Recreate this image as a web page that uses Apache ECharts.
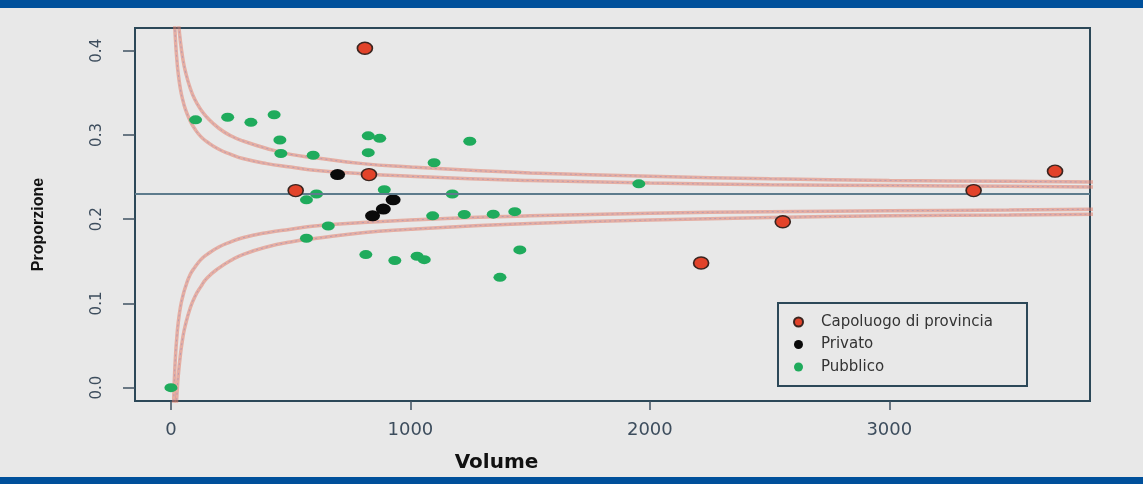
<!DOCTYPE html>
<html>
<head>
<meta charset="utf-8">
<title>Proporzione per volume</title>
<script src="https://cdn.jsdelivr.net/npm/echarts@6/dist/echarts.min.js"></script>
<style>
  html, body { margin: 0; padding: 0; background: #e8e8e8; }
  #chart { width: 1143px; height: 484px; }
</style>
</head>
<body>
<div id="chart"></div>
<script>
// Axis ticks
const volumeTicks = [0, 1000, 2000, 3000];
const proportionTicks = [0, 0.1, 0.2, 0.3, 0.4];

// Overall proportion (reference line)
const targetProportion = 0.225;

// Control limits of the funnel, tabulated by volume
const limitVolumes = [10, 12, 15, 20, 25, 30, 40, 50, 60, 80, 100, 125, 150, 200, 250, 300, 400, 500, 600, 800, 1000, 1250, 1500, 2000, 2500, 3000, 3500, 3900];
const upperInner = [0.484, 0.461, 0.436, 0.408, 0.389, 0.374, 0.354, 0.341, 0.331, 0.317, 0.307, 0.298, 0.292, 0.283, 0.277, 0.272, 0.266, 0.262, 0.258, 0.254, 0.251, 0.248, 0.246, 0.243, 0.241, 0.240, 0.239, 0.238];
const lowerInner = [-0.034, -0.011, 0.014, 0.042, 0.061, 0.076, 0.096, 0.109, 0.119, 0.134, 0.143, 0.152, 0.158, 0.167, 0.173, 0.178, 0.184, 0.188, 0.192, 0.196, 0.199, 0.202, 0.204, 0.207, 0.209, 0.210, 0.211, 0.212];
const upperOuter = [0.595, 0.563, 0.527, 0.486, 0.459, 0.439, 0.410, 0.390, 0.376, 0.356, 0.342, 0.330, 0.321, 0.308, 0.299, 0.293, 0.284, 0.277, 0.273, 0.266, 0.262, 0.258, 0.255, 0.251, 0.248, 0.246, 0.245, 0.244];
const lowerOuter = [-0.145, -0.113, -0.077, -0.036, -0.009, 0.012, 0.040, 0.060, 0.074, 0.094, 0.108, 0.120, 0.130, 0.142, 0.151, 0.158, 0.167, 0.173, 0.177, 0.184, 0.188, 0.192, 0.195, 0.199, 0.202, 0.204, 0.205, 0.206];

// Capoluogo di provincia
const capoluogoVolume = [521, 810, 827, 2214, 2555, 3352, 3692];
const capoluogoProp   = [0.234, 0.403, 0.253, 0.148, 0.197, 0.234, 0.257];

// Privato
const privatoVolume = [696, 842, 887, 928];
const privatoProp   = [0.253, 0.204, 0.212, 0.223];

// Pubblico
const pubblicoVolume = [0, 103, 237, 334, 431, 455, 459, 594, 824, 872, 824, 1248, 1099, 608, 566, 891, 1175, 1093, 1225, 1346, 1436, 657, 566, 814, 935, 1028, 1058, 1457, 1374, 1954];
const pubblicoProp   = [0.0, 0.318, 0.321, 0.315, 0.324, 0.294, 0.278, 0.276, 0.299, 0.296, 0.279, 0.2925, 0.267, 0.230, 0.223, 0.235, 0.230, 0.204, 0.2056, 0.206, 0.209, 0.192, 0.1774, 0.158, 0.151, 0.156, 0.152, 0.1636, 0.131, 0.242];

const pairs = (xs, ys) => xs.map((x, i) => [x, ys[i]]);

const frameColor = '#2c4858';
const tickColor = '#3f5262';

function limitSeries(values) {
  return [
    {
      type: 'line', silent: true, smooth: true, symbol: 'none', z: 1,
      data: pairs(limitVolumes, values),
      lineStyle: { color: 'rgba(226,125,105,0.55)', width: 3.5 }
    },
    {
      type: 'line', silent: true, smooth: true, symbol: 'none', z: 2,
      data: pairs(limitVolumes, values),
      lineStyle: { color: 'rgba(110,120,200,0.35)', width: 1, type: [2, 3] }
    }
  ];
}

const chart = echarts.init(document.getElementById('chart'));

chart.setOption({
  backgroundColor: '#e8e8e8',
  animation: false,
  grid: {
    left: 135, right: 53, top: 28, bottom: 83,
    show: true, borderColor: frameColor, borderWidth: 2, backgroundColor: 'transparent'
  },
  xAxis: {
    type: 'value', min: -150, max: 3838,
    name: 'Volume', nameLocation: 'middle', nameGap: 52,
    nameTextStyle: { fontFamily: 'DejaVu Sans', fontWeight: 'bold', fontSize: 20, color: '#111', padding: [0, 232, 0, 0] },
    axisLine: { show: false, onZero: false },
    splitLine: { show: false },
    axisTick: { show: true, inside: false, length: 9, customValues: volumeTicks, lineStyle: { color: tickColor, width: 1.5 } },
    axisLabel: {
      customValues: volumeTicks, margin: 20, fontFamily: 'DejaVu Sans', fontSize: 18, color: '#3d4d5d',
      formatter: v => String(v)
    }
  },
  yAxis: {
    type: 'value', min: -0.0158, max: 0.427,
    name: 'Proporzione', nameLocation: 'middle', nameGap: 88, nameRotate: 90,
    nameTextStyle: { fontFamily: 'Liberation Sans', fontWeight: 'bold', fontSize: 16, color: '#111', padding: [0, 20, 0, 0] },
    axisLine: { show: false, onZero: false },
    splitLine: { show: false },
    axisTick: { show: true, inside: false, length: 12, customValues: proportionTicks, lineStyle: { color: tickColor, width: 1.5 } },
    axisLabel: {
      customValues: proportionTicks, rotate: 90, margin: 30,
      fontFamily: 'DejaVu Sans', fontSize: 15, color: '#3d4d5d',
      formatter: v => v.toFixed(1)
    }
  },
  legend: {
    data: ['Capoluogo di provincia', 'Privato', 'Pubblico'],
    orient: 'vertical', left: 793, top: 314, padding: 0,
    itemWidth: 11, itemHeight: 9, itemGap: 6.5,
    textStyle: { fontFamily: 'DejaVu Sans', fontSize: 15, lineHeight: 16, color: '#333', padding: [0, 0, 0, 12] }
  },
  graphic: [
    { type: 'rect', left: 0, top: 0, shape: { width: 1143, height: 8 }, style: { fill: '#00509b' }, silent: true },
    { type: 'rect', left: 0, top: 477, shape: { width: 1143, height: 7 }, style: { fill: '#00509b' }, silent: true },
    { type: 'rect', z: -1, shape: { x: 778, y: 303, width: 249, height: 83 }, style: { fill: 'none', stroke: frameColor, lineWidth: 2 }, silent: true }
  ],
  series: [
    ...limitSeries(upperOuter),
    ...limitSeries(upperInner),
    ...limitSeries(lowerInner),
    ...limitSeries(lowerOuter),
    {
      name: 'Pubblico', type: 'scatter', z: 3,
      symbol: 'circle', symbolSize: [13, 9],
      data: pairs(pubblicoVolume, pubblicoProp),
      itemStyle: { color: '#1fab5c', opacity: 1 },
      markLine: {
        silent: true, symbol: 'none', label: { show: false },
        lineStyle: { color: '#5d7b8c', width: 2, type: 'solid' },
        data: [{ yAxis: targetProportion }]
      }
    },
    {
      name: 'Privato', type: 'scatter', z: 4,
      symbol: 'circle', symbolSize: [15, 11],
      data: pairs(privatoVolume, privatoProp),
      itemStyle: { color: '#0a0a0a', opacity: 1 }
    },
    {
      name: 'Capoluogo di provincia', type: 'scatter', z: 5,
      symbol: 'circle', symbolSize: [15, 12],
      data: pairs(capoluogoVolume, capoluogoProp),
      itemStyle: { color: '#e2432a', borderColor: '#3a2520', borderWidth: 1.5, opacity: 1 }
    }
  ]
});
</script>
</body>
</html>
